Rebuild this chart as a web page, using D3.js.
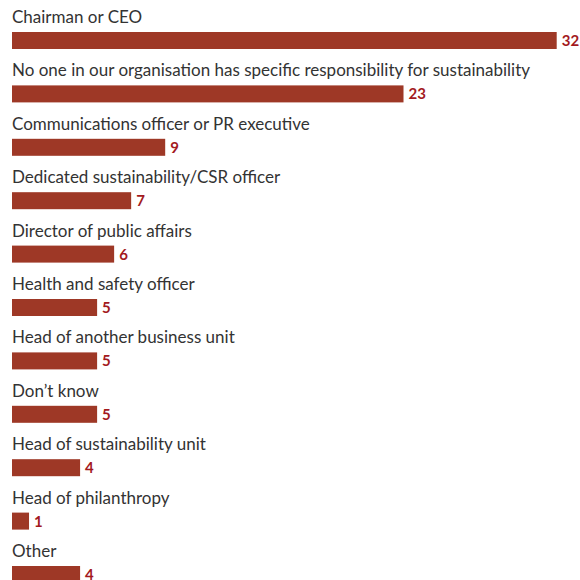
<!DOCTYPE html>
<html>
<head>
<meta charset="utf-8">
<script src="https://cdn.jsdelivr.net/npm/d3@7"></script>
<style>
  html, body { margin: 0; padding: 0; background: #fff; }
  svg { display: block; }
</style>
</head>
<body>
<svg id="chart" width="580" height="580"></svg>
<script>
// Who is responsible for sustainability in your organisation? (% of respondents)
const categories = [
  "Chairman or CEO",
  "No one in our organisation has specific responsibility for sustainability",
  "Communications officer or PR executive",
  "Dedicated sustainability/CSR officer",
  "Director of public affairs",
  "Health and safety officer",
  "Head of another business unit",
  "Don\u2019t know",
  "Head of sustainability unit",
  "Head of philanthropy",
  "Other"
];
const values = [32, 23, 9, 7, 6, 5, 5, 5, 4, 1, 4];

const svg = d3.select("#chart");
const left = 12;
const firstBarTop = 32;
const rowStep = 53.4;
const barH = 17;

const x = d3.scaleLinear().domain([0, 32]).range([left, left + 544.7]);
const y = d3.scaleLinear().domain([0, 1]).range([firstBarTop, firstBarTop + rowStep]);

const rows = svg.selectAll("g.row")
  .data(categories.map((c, i) => ({ c, v: values[i], i })))
  .join("g")
  .attr("class", "row");

rows.append("text")
  .attr("x", left)
  .attr("y", d => y(d.i) - 9)
  .attr("font-family", "Lato, 'Open Sans', sans-serif")
  .attr("font-size", 17)
  .attr("fill", "#333")
  .text(d => d.c);

rows.append("rect")
  .attr("x", x(0))
  .attr("y", d => y(d.i))
  .attr("width", d => x(d.v) - x(0))
  .attr("height", barH)
  .attr("fill", "#9e3826");

rows.append("text")
  .attr("x", d => x(d.v) + 5)
  .attr("y", d => y(d.i) + barH / 2)
  .attr("dy", "0.36em")
  .attr("font-family", "Lato, 'Open Sans', sans-serif")
  .attr("font-size", 15)
  .attr("font-weight", "bold")
  .attr("fill", "#a31a1e")
  .text(d => d.v);
</script>
</body>
</html>
